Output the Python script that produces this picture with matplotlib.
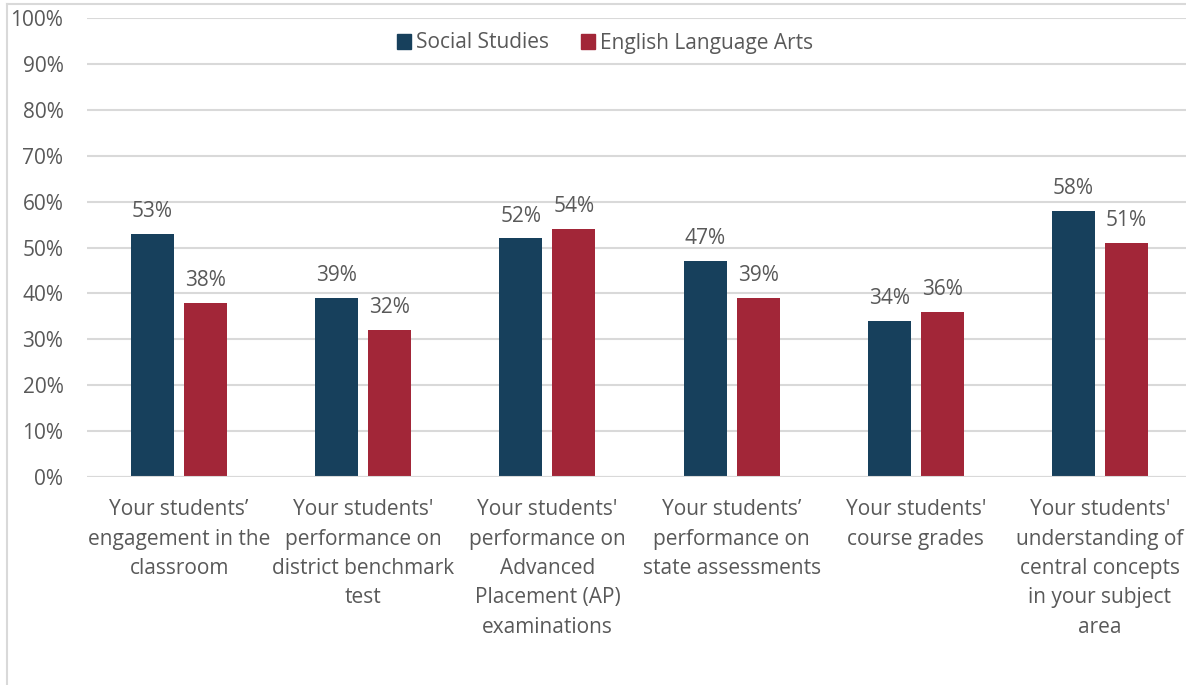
import matplotlib
matplotlib.use("Agg")
import matplotlib.pyplot as plt
from matplotlib.lines import Line2D
from matplotlib.patches import Patch
import numpy as np

categories = [
    "Your students’\nengagement in the\nclassroom",
    "Your students'\nperformance on\ndistrict benchmark\ntest",
    "Your students'\nperformance on\nAdvanced\nPlacement (AP)\nexaminations",
    "Your students’\nperformance on\nstate assessments",
    "Your students'\ncourse grades",
    "Your students'\nunderstanding of\ncentral concepts\nin your subject\narea",
]
social_studies = [53, 39, 52, 47, 34, 58]
english_la = [38, 32, 54, 39, 36, 51]
series_names = ["Social Studies", "English Language Arts"]
y_ticks = [0, 10, 20, 30, 40, 50, 60, 70, 80, 90, 100]

SS_COLOR = "#17405C"
ELA_COLOR = "#A22638"
TEXT = "#595959"
GRID = "#D9D9D9"
FS = 15

plt.rcParams["font.family"] = ["Open Sans", "DejaVu Sans"]

W, H = 1186, 685
fig = plt.figure(figsize=(W / 100, H / 100), dpi=100)

# frame lines around the chart area
fig.add_artist(Line2D([7 / W, 7 / W], [0, 1 - 4 / H], color=GRID, lw=1.5, transform=fig.transFigure))
fig.add_artist(Line2D([7 / W, 1], [1 - 4 / H, 1 - 4 / H], color=GRID, lw=1.5, transform=fig.transFigure))

left, right = 87, 1192
top, bottom = 18, 477
ax = fig.add_axes([left / W, 1 - bottom / H, (right - left) / W, (bottom - top) / H])

x = np.arange(len(categories))
bw = 0.234
off = 0.144
b1 = ax.bar(x - off, social_studies, bw, color=SS_COLOR, zorder=3)
b2 = ax.bar(x + off, english_la, bw, color=ELA_COLOR, zorder=3)

for bars, vals in ((b1, social_studies), (b2, english_la)):
    for rect, v in zip(bars, vals):
        ax.annotate(f"{v}%", (rect.get_x() + rect.get_width() / 2, v),
                    xytext=(0, 8.5), textcoords="offset points",
                    ha="center", va="bottom", fontsize=FS, color=TEXT)

ax.set_xlim(-0.5, len(categories) - 0.5)
ax.set_ylim(0, 100)
ax.set_yticks(y_ticks)
ax.set_yticklabels([f"{t}%" for t in y_ticks])
ax.set_xticks(x)
ax.set_xticklabels(categories, linespacing=1.52)
ax.tick_params(axis="y", length=0, pad=17, labelsize=FS, labelcolor=TEXT)
ax.tick_params(axis="x", length=0, pad=16, labelsize=FS, labelcolor=TEXT)
ax.grid(axis="y", color=GRID, lw=1.5, zorder=0)
for s in ax.spines.values():
    s.set_visible(False)
ax.axhline(0, color=GRID, lw=1.5, zorder=4)

handles = [Patch(color=SS_COLOR), Patch(color=ELA_COLOR)]
fig.legend(handles, series_names, loc="center", bbox_to_anchor=(605 / W, 1 - 43 / H),
           ncol=2, frameon=False, fontsize=FS, labelcolor=TEXT,
           handlelength=0.7, handleheight=0.7, handletextpad=0.25, columnspacing=1.5)

fig.savefig("out.png", dpi=100, facecolor="white")
